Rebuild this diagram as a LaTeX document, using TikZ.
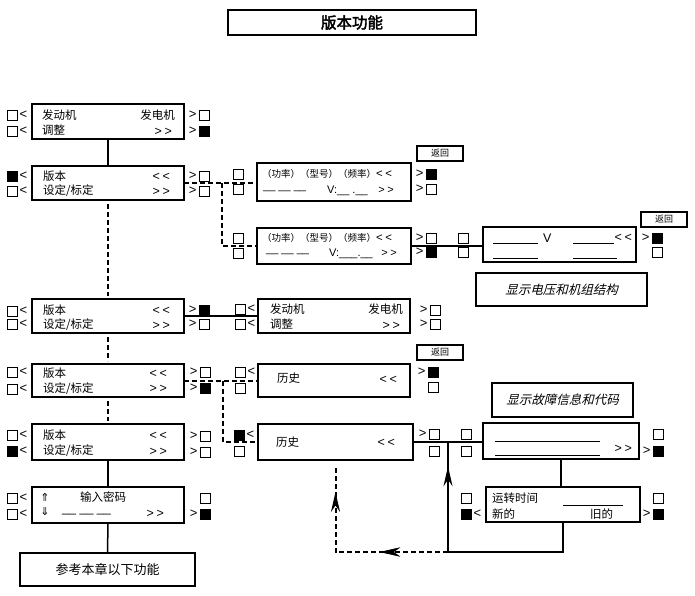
\documentclass[tikz,border=0pt]{standalone}
\usepackage{fontspec}
\setmainfont{Liberation Sans}
\newfontfamily\cjk{Noto Sans CJK SC}
\newfontfamily\cjkit[FakeSlant=0.25]{Noto Sans CJK SC}
\newfontfamily\cjkbf[FakeBold=2.5]{Noto Sans CJK SC}
\newfontfamily\symf{DejaVu Sans}
\usetikzlibrary{arrows.meta,decorations.markings,calc}
\newcommand\LL{<\kern2.5pt<}
\newcommand\RR{>\kern2.5pt>}
\newcommand\LSQ[4]{\node[#2] (#1) at (#3,#4) {};\node[mk,anchor=west] (#1a) at ($(#1.east)+(2,0)$) {<};}
\newcommand\RSQ[4]{\node[#2] (#1) at (#3,#4) {};\node[mk,anchor=east] (#1a) at ($(#1.west)+(-2,0)$) {>};}
\newcommand\OSQ[4]{\node[#2] (#1) at (#3,#4) {};}
\begin{document}
\begin{tikzpicture}[x=1pt,y=-1pt,
  panel/.style={draw, line width=1.5pt, inner sep=0, outer sep=0},
  sq/.style={draw, line width=0.9pt, minimum size=10pt, inner sep=0, fill=white},
  sqf/.style={sq, fill=black},
  mk/.style={inner sep=0, font=\fontsize{13}{13}\selectfont},
  tx/.style={inner sep=0, anchor=west, font=\cjk\fontsize{11.5}{12}\selectfont},
  txe/.style={tx, anchor=east},
  lt/.style={inner sep=0, anchor=west, font=\fontsize{12.5}{12.5}\selectfont},
  lte/.style={lt, anchor=east},
  lts/.style={inner sep=0, anchor=west, font=\fontsize{11}{11}\selectfont},
  ltse/.style={lts, anchor=east},
  smalltx/.style={inner sep=0, anchor=west, font=\cjk\fontsize{9.5}{10}\selectfont},
  conn/.style={line width=1.5pt},
  dotc/.style={line width=2pt, dash pattern=on 5pt off 3pt},
  blankline/.style={line width=0.9pt},
  retbox/.style={panel, line width=2.3pt, minimum width=46pt, minimum height=15pt, font=\cjk\fontsize{9}{9}\selectfont},
  capbox/.style={panel, font=\cjkit\fontsize{12.5}{13}\selectfont},
  tipA/.style={postaction={decorate}, decoration={markings, mark=at position #1 with {\arrow{Stealth[length=20pt,width=9pt]}}}},
]
\useasboundingbox (0,0) rectangle (695,596);

% title
\node[panel, line width=2.5pt, minimum width=248pt, minimum height=25pt, font=\cjkbf\fontsize{15.5}{15.5}\selectfont] (title) at (352,22.5) {版本功能};

% panels
\node[panel,minimum width=152pt,minimum height=35pt] (A) at (108,121.5) {};
\node[panel,minimum width=152pt,minimum height=34pt] (B) at (108,183) {};
\node[panel,minimum width=154pt,minimum height=38pt] (C) at (334,182) {};
\node[panel,minimum width=154pt,minimum height=36pt] (D) at (334,246) {};
\node[panel,minimum width=153pt,minimum height=35pt] (E) at (559.5,244.5) {};
\node[panel,minimum width=152pt,minimum height=34pt] (F) at (108,316) {};
\node[panel,minimum width=152pt,minimum height=34pt] (G) at (334,316) {};
\node[panel,minimum width=152pt,minimum height=33pt] (H) at (108,380.5) {};
\node[panel,minimum width=152pt,minimum height=33pt] (I) at (334,380.5) {};
\node[panel,minimum width=152pt,minimum height=36pt] (J) at (108,442) {};
\node[panel,minimum width=155pt,minimum height=36pt] (K) at (335.5,442) {};
\node[panel,minimum width=156pt,minimum height=36pt] (L) at (561,441) {};
\node[panel,minimum width=154pt,minimum height=35pt] (M) at (563,504.5) {};
\node[panel,minimum width=152pt,minimum height=36pt] (N) at (108,505) {};
\node[panel,minimum width=175pt,minimum height=33pt, font=\cjk\fontsize{13}{13}\selectfont] (O) at (107.5,569.5) {参考本章以下功能};

\node[capbox,minimum width=171pt,minimum height=33pt] (cap1) at (561.5,289.5) {显示电压和机组结构};
\node[capbox,minimum width=141pt,minimum height=34pt] (cap2) at (562.5,400) {显示故障信息和代码};

\node[retbox] (r1) at (440,153.5) {返回};
\node[retbox] (r2) at (664,219.5) {返回};
\node[retbox] (r3) at (440,352.5) {返回};

% connectors
\draw[conn] (A.south) -- (B.north);
\draw[dotc, shorten <=4pt, shorten >=3pt] (B.south) -- (F.north);
\draw[dotc, shorten <=4pt, shorten >=3pt] (F.south) -- (H.north);
\draw[dotc, shorten <=4pt, shorten >=3pt] (H.south) -- (J.north);
\draw[conn] (J.south) -- (N.north);
\draw[conn] (N.south) -- (O.north);

\coordinate (bc) at (222,183);
\draw[dotc] (B.east) -- (B.east -| C.west);
\draw[dotc] (bc) |- (D.west);
\draw[conn] (D.east) -- (D.east -| E.west);
\draw[conn] (F.east) -- (G.west);
\coordinate (hk) at (223,380.5);
\draw[dotc] (H.east) -- (I.west);
\draw[dotc] (hk) |- (K.west);
\draw[conn] (K.east) -- (K.east -| L.west);
\draw[conn] (L.south) -- (L.south |- M.north);
\coordinate (jkl) at (448,442);
\coordinate (jb) at (448,552);
\coordinate (kb) at ($(K.south)+(0,5)$);
\draw[conn] (M.south) |- (jb);
\draw[conn, tipA=0.78] (jb) -- (jkl);
\draw[dotc, tipA=0.341, postaction={decorate, decoration={markings, mark=at position 0.865 with {\arrow{Stealth[length=20pt,width=9pt]}}}}] (jb) -| (kb);

% markers
\LSQ{aL1}{sq}{12}{115} \LSQ{aL2}{sq}{12}{131} \RSQ{aR1}{sq}{204}{115} \RSQ{aR2}{sqf}{204}{131}
\LSQ{bL1}{sqf}{12}{176} \LSQ{bL2}{sq}{12}{191} \RSQ{bR1}{sq}{204}{176} \RSQ{bR2}{sq}{204}{191}
\OSQ{cL1}{sq}{238}{174} \OSQ{cL2}{sq}{238}{189} \RSQ{cR1}{sqf}{431}{174} \RSQ{cR2}{sq}{431}{189}
\OSQ{dL1}{sq}{238}{238} \OSQ{dL2}{sq}{238}{253} \RSQ{dR1}{sq}{431}{238} \RSQ{dR2}{sqf}{431}{252}
\OSQ{eL1}{sq}{463}{238} \OSQ{eL2}{sq}{463}{252} \RSQ{eR1}{sqf}{657}{238} \OSQ{eR2}{sq}{657}{252}
\LSQ{fL1}{sq}{12}{311} \LSQ{fL2}{sq}{12}{324} \RSQ{fR1}{sqf}{204}{310} \RSQ{fR2}{sq}{204}{324}
\LSQ{gL1}{sq}{240}{309} \LSQ{gL2}{sq}{240}{324} \RSQ{gR1}{sq}{435}{310} \RSQ{gR2}{sq}{435}{324}
\LSQ{hL1}{sq}{12}{372} \LSQ{hL2}{sq}{12}{389} \RSQ{hR1}{sq}{205}{372} \RSQ{hR2}{sqf}{205}{388}
\LSQ{iL1}{sq}{240}{372} \OSQ{iL2}{sq}{240}{388} \RSQ{iR1}{sqf}{433}{372} \OSQ{iR2}{sq}{433}{387}
\LSQ{jL1}{sq}{12}{435} \LSQ{jL2}{sqf}{12}{451} \RSQ{jR1}{sq}{205}{436} \RSQ{jR2}{sq}{205}{452}
\LSQ{kL1}{sqf}{239}{435} \OSQ{kL2}{sq}{239}{451} \RSQ{kR1}{sq}{434}{434} \OSQ{kR2}{sq}{434}{451}
\OSQ{lL1}{sq}{466}{434} \OSQ{lL2}{sq}{466}{451} \OSQ{lR1}{sq}{658}{434} \RSQ{lR2}{sqf}{658}{451}
\OSQ{mL1}{sq}{466}{498} \LSQ{mL2}{sqf}{466}{514} \OSQ{mR1}{sq}{658}{498} \RSQ{mR2}{sqf}{658}{514}
\LSQ{nL1}{sq}{12}{498} \LSQ{nL2}{sq}{12}{514} \OSQ{nR1}{sq}{205}{498} \RSQ{nR2}{sqf}{205}{514}

% texts A
\node[tx] (A1) at (42,115) {发动机};
\node[txe] (A2) at (175,115) {发电机};
\node[tx] (A3) at (42,130) {调整};
\node[lte] (A4) at (172,132) {\RR};
% B F H J
\node[tx] (B1) at (43,176) {版本};
\node[lte] (B2) at (170,177) {\LL};
\node[tx] (B3) at (43,191) {设定/标定};
\node[lte] (B4) at (170,192) {\RR};
\node[tx] (F1) at (43,310) {版本};
\node[lte] (F2) at (170,311) {\LL};
\node[tx] (F3) at (43,325) {设定/标定};
\node[lte] (F4) at (170,326) {\RR};
\node[tx] (H1) at (43,373) {版本};
\node[lte] (H2) at (167,374) {\LL};
\node[tx] (H3) at (43,389) {设定/标定};
\node[lte] (H4) at (167,389) {\RR};
\node[tx] (J1) at (43,435) {版本};
\node[lte] (J2) at (167,436) {\LL};
\node[tx] (J3) at (43,451) {设定/标定};
\node[lte] (J4) at (167,452) {\RR};
% C D
\node[smalltx] (C1) at (262,174) {（功率）（型号）（频率）{\fontspec{Liberation Sans}\fontsize{11.5}{11.5}\selectfont\LL}};
\node[lts] (C2) at (263,191) {\_\_ \_\_ \_\_};
\node[lts] (C3) at (327,191) {V:\_\_ .\_\_};
\node[ltse] (C4) at (394,190) {\RR};
\node[smalltx] (D1) at (262,238) {（功率）（型号）（频率）{\fontspec{Liberation Sans}\fontsize{11.5}{11.5}\selectfont\LL}};
\node[lts] (D2) at (266,254) {\_\_ \_\_ \_\_};
\node[lts] (D3) at (329,254) {V:\_\_\_.\_\_};
\node[ltse] (D4) at (397,253) {\RR};
% E
\draw[blankline] (493,243) -- (538,243);
\draw[blankline] (573,243) -- (614,243);
\draw[blankline] (493,258) -- (538,258);
\draw[blankline] (573,258) -- (617,258);
\node[lt] (E1) at (543,238) {V};
\node[lte] (E2) at (632,238) {\LL};
% G
\node[tx] (G1) at (270,309) {发动机};
\node[txe] (G2) at (403,309) {发电机};
\node[tx] (G3) at (270,324) {调整};
\node[lte] (G4) at (400,326) {\RR};
% I K
\node[tx] (I1) at (277,378) {历史};
\node[lte] (I2) at (397,380) {\LL};
\node[tx] (K1) at (276,442) {历史};
\node[lte] (K2) at (395,443) {\LL};
% L
\draw[blankline] (495,441) -- (600,441);
\draw[blankline] (495,455) -- (600,455);
\node[lte] (L1) at (632,449) {\RR};
% M
\node[tx] (M1) at (492,498) {运转时间};
\draw[blankline] (563,505) -- (623,505);
\node[tx] (M2) at (492,514) {新的};
\node[tx] (M3) at (590,514) {旧的};
% N
\node[inner sep=0, font=\symf\fontsize{11}{11}\selectfont] (N1) at (45,497) {⇑};
\node[tx] (N2) at (80,497) {输入密码};
\node[inner sep=0, font=\symf\fontsize{11}{11}\selectfont] (N3) at (45,512) {⇓};
\node[lt] (N4) at (62,514) {\_\_\ \_\_\ \_\_};
\node[lte] (N5) at (164,514) {\RR};
\end{tikzpicture}
\end{document}
